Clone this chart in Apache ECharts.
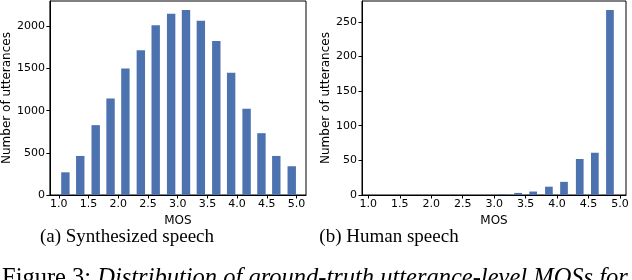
<!DOCTYPE html>
<html><head><meta charset="utf-8">
<script src="https://cdn.jsdelivr.net/npm/echarts@6/dist/echarts.min.js"></script>
<style>html,body{margin:0;padding:0;background:#fff}#c{width:632px;height:280px}</style>
</head><body><div id="c"></div>
<script>
// Synthesized speech histogram (bin centres, counts)
const synthBins = [1.11, 1.36, 1.62, 1.87, 2.12, 2.38, 2.63, 2.89, 3.14, 3.39, 3.65, 3.90, 4.16, 4.41, 4.66, 4.92];
const synthCounts = [269, 463, 828, 1145, 1501, 1715, 2012, 2150, 2194, 2067, 1826, 1450, 1022, 733, 463, 341];
// Human speech histogram
const humanBins = [1.17, 1.41, 1.66, 1.90, 2.15, 2.39, 2.64, 2.88, 3.13, 3.38, 3.62, 3.87, 4.11, 4.36, 4.60, 4.84];
const humanCounts = [0, 0, 0, 0, 0, 0, 0, 0, 1, 3, 5, 12, 19, 52, 61, 267];
const xTicks = [1.0, 1.5, 2.0, 2.5, 3.0, 3.5, 4.0, 4.5, 5.0];
const yTicksSynth = [0, 500, 1000, 1500, 2000];
const yTicksHuman = [0, 50, 100, 150, 200, 250];
const captions = ['(a) Synthesized speech', '(b) Human speech'];

const FONT = 'DejaVu Sans';
const BAR = '#4c72b0';
function xAxis(gi, min, max) {
  return {
    type: 'value', gridIndex: gi, min: min, max: max,
    name: 'MOS', nameLocation: 'middle', nameGap: 17,
    nameTextStyle: {fontFamily: FONT, fontSize: 12, color: '#000'},
    axisLine: {show: true, onZero: false, lineStyle: {color: '#000', width: 1}},
    axisTick: {show: true, length: 3.5, customValues: xTicks, lineStyle: {color: '#000'}},
    axisLabel: {customValues: xTicks, margin: 4, fontFamily: FONT, fontSize: 11, color: '#000',
      formatter: v => v.toFixed(1)},
    splitLine: {show: false}
  };
}
function yAxis(gi, max, ticks, gap) {
  return {
    type: 'value', gridIndex: gi, min: 0, max: max,
    name: 'Number of utterances', nameLocation: 'middle', nameGap: gap,
    nameTextStyle: {fontFamily: FONT, fontSize: 12, color: '#000'},
    axisLine: {show: true, lineStyle: {color: '#000', width: 1}},
    axisTick: {show: true, length: 3.5, customValues: ticks, lineStyle: {color: '#000'}},
    axisLabel: {customValues: ticks, margin: 5, fontFamily: FONT, fontSize: 11, color: '#000',
      formatter: v => String(v)},
    splitLine: {show: false}
  };
}
const chart = echarts.init(document.getElementById('c'), null, {renderer: 'canvas'});
chart.setOption({
  animation: false,
  grid: [
    {left: 49, top: 1, width: 257, height: 194, show: true, borderColor: '#000', borderWidth: 1},
    {left: 362, top: 1, width: 264, height: 194, show: true, borderColor: '#000', borderWidth: 1}
  ],
  xAxis: [xAxis(0, 0.849, 5.16), xAxis(1, 0.9, 5.095)],
  yAxis: [yAxis(0, 2300, yTicksSynth, 35), yAxis(1, 280, yTicksHuman, 28)],
  series: [
    {type: 'bar', xAxisIndex: 0, yAxisIndex: 0, barWidth: 8.4,
      itemStyle: {color: BAR, borderWidth: 0},
      data: synthBins.map((x, i) => [x, synthCounts[i]])},
    {type: 'bar', xAxisIndex: 1, yAxisIndex: 1, barWidth: 7.7,
      itemStyle: {color: BAR, borderWidth: 0},
      data: humanBins.map((x, i) => [x, humanCounts[i]])}
  ],
  graphic: [
    {type: 'text', x: 127, y: 237.5, style: {text: captions[0], font: '19px "Liberation Serif"', fill: '#000', align: 'center', verticalAlign: 'middle'}},
    {type: 'text', x: 389, y: 237.5, style: {text: captions[1], font: '19px "Liberation Serif"', fill: '#000', align: 'center', verticalAlign: 'middle'}},
    {type: 'text', x: 2, y: 266, style: {rich: {
        n: {font: '24.5px "Liberation Serif"', fill: '#000'},
        i: {font: 'italic 24.5px "Liberation Serif"', fill: '#000'}},
      text: '{n|Figure 3: }{i|Distribution of ground-truth utterance-level MOSs for}'}}
  ]
});
</script></body></html>
